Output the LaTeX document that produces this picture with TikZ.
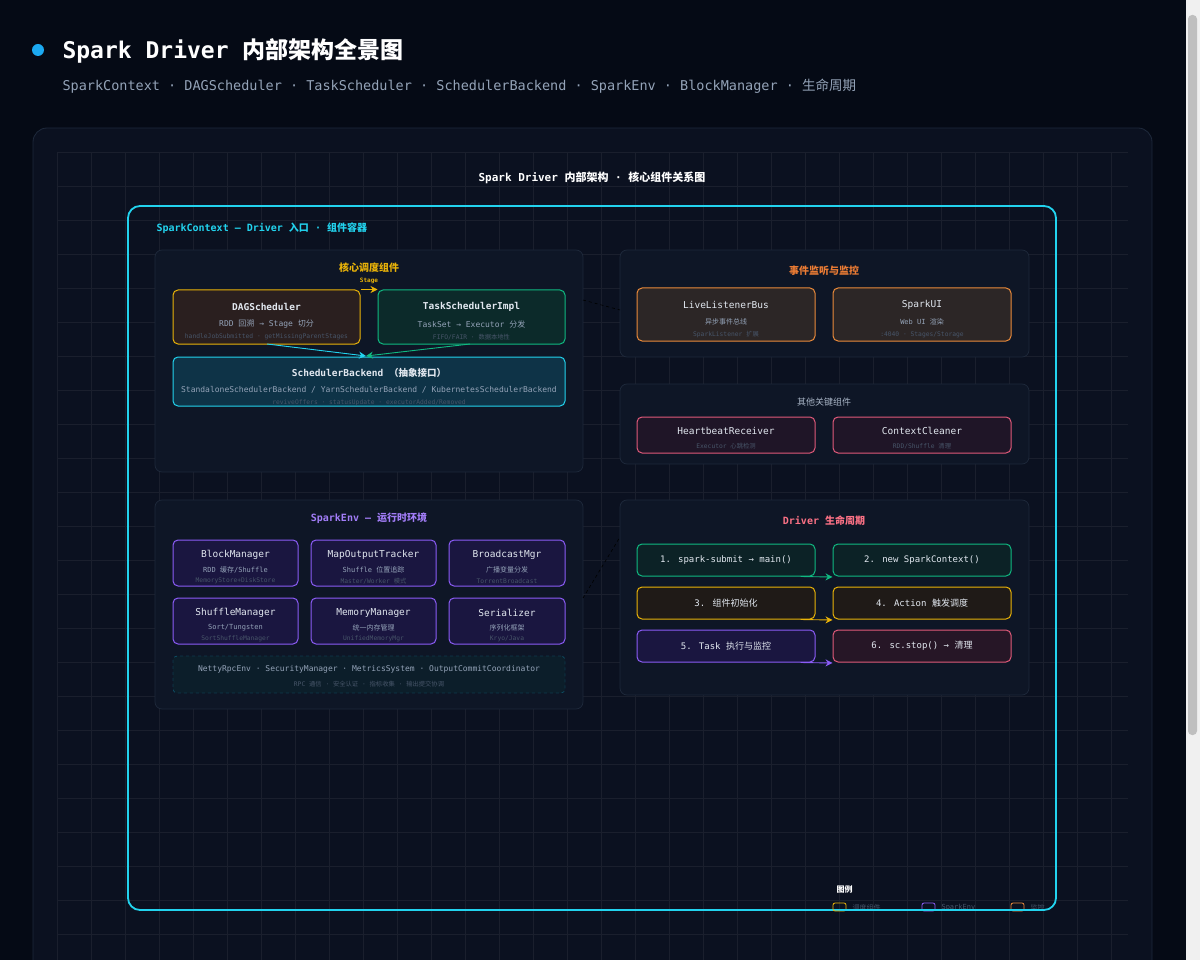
\documentclass[tikz,border=0pt]{standalone}
\usepackage{fontspec}
\setmainfont{DejaVu Sans Mono}
\newfontfamily\cjk{Noto Sans CJK SC}
\newcommand\zh[1]{{\cjk #1}}
\usetikzlibrary{arrows.meta}
\definecolor{bg}{HTML}{050A15}
\definecolor{panel}{HTML}{0B1120}
\definecolor{sub}{HTML}{0E1626}
\definecolor{edge}{HTML}{1E293B}
\definecolor{cy}{HTML}{22D3EE}
\definecolor{yl}{HTML}{EAB308}
\definecolor{gr}{HTML}{10B981}
\definecolor{or}{HTML}{EA8A3A}
\definecolor{pk}{HTML}{E05A7A}
\definecolor{pu}{HTML}{8B5CF6}
\definecolor{tname}{HTML}{E2E8F0}
\definecolor{tdesc}{HTML}{94A3B8}
\definecolor{tsmall}{HTML}{475569}
\definecolor{HTML2A1F1F}{HTML}{2A1F1F}
\definecolor{HTML0C2A2A}{HTML}{0C2A2A}
\definecolor{HTML0E3347}{HTML}{0E3347}
\definecolor{HTML2C2626}{HTML}{2C2626}
\definecolor{HTML1F1527}{HTML}{1F1527}
\definecolor{HTML1A1640}{HTML}{1A1640}
\definecolor{HTML0E7490}{HTML}{0E7490}
\definecolor{HTML0C1E2A}{HTML}{0C1E2A}
\definecolor{HTMLFB7185}{HTML}{FB7185}
\definecolor{HTML0C2226}{HTML}{0C2226}
\definecolor{HTML1F1A17}{HTML}{1F1A17}
\definecolor{HTML261626}{HTML}{261626}
\tikzset{
 x=1pt,y=-1pt,
 pan/.style={draw=edge,fill=sub,rounded corners=7pt,line width=0.7pt},
 box/.style={draw=#1,rounded corners=5pt,line width=1pt,inner sep=0},
 nm/.style={text=tname,font=\fontsize{9.5}{11}\selectfont},
 ds/.style={text=tdesc,font=\fontsize{8}{10}\selectfont},
 sm/.style={text=tsmall,font=\fontsize{6.3}{8}\selectfont},
 ptitle/.style={font=\bfseries\fontsize{10}{12}\selectfont},
 arr/.style={-{Stealth[length=7pt,width=7pt]},line width=0.9pt},
 dlink/.style={draw=edge!150,dashed,line width=0.6pt},
}
\newcommand\envbox[7]{%
 \node[box=pu,fill=HTML1A1640,minimum width=#4,minimum height=46] (#1) at (#2,#3) {};
 \node[nm] at (#2,#3-8) {#5};
 \node[ds,font=\fontsize{7}{8}\selectfont] at (#2,#3+7) {#6};
 \node[sm] at (#2,#3+18) {#7};}
\newcommand\lc[6]{%
 \node[box=#4,fill=#5,minimum width=178,minimum height=32,text=tname,font=\fontsize{9}{11}\selectfont] (#1) at (#2,#3) {#6};}
\begin{document}
\begin{tikzpicture}
\fill[bg] (0,0) rectangle (1200,960);
\useasboundingbox (0,0) rectangle (1200,960);
% scrollbar
\fill[white!94!black] (1186,0) rectangle (1200,960);
\fill[white!75!black,rounded corners=4pt] (1188,15) rectangle (1197,735);
% header
\fill[cy!80!blue] (38,50) circle (6);
\node[anchor=west,text=white,font=\bfseries\fontsize{23}{26}\selectfont] (title) at (59,51) {Spark Driver \zh{内部架构全景图}};
\node[anchor=west,text=tdesc,font=\fontsize{13.5}{16}\selectfont] (subt) at (59,86) {SparkContext · DAGScheduler · TaskScheduler · SchedulerBackend · SparkEnv · BlockManager · \zh{生命周期}};
% outer panel
\draw[edge,fill=panel,rounded corners=14pt,line width=0.8pt] (33,128) rectangle (1152,975);
\begin{scope}
\clip (57,152) rectangle (1128,960);
\foreach \i in {0,...,32} {\draw[white!6!panel,line width=0.5pt] (57+34*\i,152) -- (57+34*\i,960);}
\foreach \i in {0,...,24} {\draw[white!6!panel,line width=0.5pt] (57,152+34*\i) -- (1128,152+34*\i);}
\end{scope}
\node[text=white,font=\bfseries\fontsize{11}{13}\selectfont] (mt) at (592,178) {Spark Driver \zh{内部架构} · \zh{核心组件关系图}};
% SparkContext frame
\draw[cy,line width=1.8pt,rounded corners=12pt] (128,206) rectangle (1056,910);
\node[anchor=west,text=cy,ptitle] (sctx) at (153,228) {SparkContext — Driver \zh{入口} · \zh{组件容器}};
% ---- core panel
\draw[pan] (155,250) rectangle (583,472);
\node[text=yl,ptitle] (coreT) at (369,268) {\zh{核心调度组件}};
\node[box=yl,fill=HTML2A1F1F,minimum width=187,minimum height=54] (dag) at (266.5,317) {};
\node[nm,font=\bfseries\fontsize{9.5}{11}\selectfont] at (266.5,307) {DAGScheduler};
\node[ds] at (266.5,324) {RDD \zh{回溯} → Stage \zh{切分}};
\node[sm] at (266.5,337) {handleJobSubmitted · getMissingParentStages};
\node[box=gr,fill=HTML0C2A2A,minimum width=187,minimum height=54] (ts) at (471.5,317) {};
\node[nm,font=\bfseries\fontsize{9.5}{11}\selectfont] at (471.5,307) {TaskSchedulerImpl};
\node[ds] at (471.5,324) {TaskSet → Executor \zh{分发}};
\node[sm] at (471.5,337) {FIFO/FAIR · \zh{数据本地性}};
\node[box=cy,fill=HTML0E3347,minimum width=392,minimum height=49] (sb) at (369,381.5) {};
\node[nm,font=\bfseries\fontsize{9.5}{11}\selectfont] at (369,373) {SchedulerBackend \zh{（抽象接口）}};
\node[ds] at (369,390) {StandaloneSchedulerBackend / YarnSchedulerBackend / KubernetesSchedulerBackend};
\node[sm] at (369,403) {reviveOffers · statusUpdate · executorAdded/Removed};
\draw[arr,yl] (dag.north east) -- (ts.north west) node[midway,above=2pt,text=yl,font=\bfseries\fontsize{6}{7}\selectfont] {Stage};
\coordinate (sbin) at (366,356);
\draw[arr,cy] (267,344) -- (sbin);
\draw[arr,gr] (470,344) -- (sbin);
% ---- event panel
\draw[pan] (620,250) rectangle (1029,357);
\node[text=or!90!red,ptitle] (evT) at (824,271) {\zh{事件监听与监控}};
\node[box=or,fill=HTML2C2626,minimum width=178,minimum height=53] (llb) at (726,314.5) {};
\node[nm] at (726,305) {LiveListenerBus};
\node[ds,font=\fontsize{7}{8}\selectfont] at (726,322) {\zh{异步事件总线}};
\node[sm] at (726,335) {SparkListener \zh{扩展}};
\node[box=or,fill=HTML2C2626,minimum width=178,minimum height=53] (ui) at (922,314.5) {};
\node[nm] at (922,305) {SparkUI};
\node[ds,font=\fontsize{7}{8}\selectfont] at (922,322) {Web UI \zh{渲染}};
\node[sm] at (922,335) {:4040 · Stages/Storage};
% ---- other panel
\draw[pan] (620,384) rectangle (1029,464);
\node[text=tdesc!80!white,font=\fontsize{9}{11}\selectfont] (otT) at (824,402) {\zh{其他关键组件}};
\node[box=pk,fill=HTML1F1527,minimum width=178,minimum height=36] (hb) at (726,435) {};
\node[nm] at (726,431) {HeartbeatReceiver};
\node[sm] at (726,446) {Executor \zh{心跳检测}};
\node[box=pk,fill=HTML1F1527,minimum width=178,minimum height=36] (cc) at (922,435) {};
\node[nm] at (922,431) {ContextCleaner};
\node[sm] at (922,446) {RDD/Shuffle \zh{清理}};
% ---- SparkEnv panel
\draw[pan] (155,500) rectangle (583,709);
\node[text=pu!80!white,ptitle] (envT) at (369,518) {SparkEnv — \zh{运行时环境}};
\envbox{bm}{235.5}{563}{125}{BlockManager}{RDD \zh{缓存}/Shuffle}{MemoryStore+DiskStore}
\envbox{mot}{373.5}{563}{125}{MapOutputTracker}{Shuffle \zh{位置追踪}}{Master/Worker \zh{模式}}
\envbox{bc}{507}{563}{116}{BroadcastMgr}{\zh{广播变量分发}}{TorrentBroadcast}
\envbox{sh}{235.5}{621}{125}{ShuffleManager}{Sort/Tungsten}{SortShuffleManager}
\envbox{mm}{373.5}{621}{125}{MemoryManager}{\zh{统一内存管理}}{UnifiedMemoryMgr}
\envbox{ser}{507}{621}{116}{Serializer}{\zh{序列化框架}}{Kryo/Java}
\node[draw=HTML0E7490,dashed,fill=HTML0C1E2A,rounded corners=4pt,minimum width=392,minimum height=37,inner sep=0] (rpc) at (369,674.5) {};
\node[ds] at (369,669) {NettyRpcEnv · SecurityManager · MetricsSystem · OutputCommitCoordinator};
\node[sm] at (369,684) {RPC \zh{通信} · \zh{安全认证} · \zh{指标收集} · \zh{输出提交协调}};
% ---- lifecycle panel
\draw[pan] (620,500) rectangle (1029,695);
\node[text=HTMLFB7185,ptitle] (lcT) at (824,521) {Driver \zh{生命周期}};
\lc{l1}{726}{560}{gr}{HTML0C2226}{1. spark-submit → main()}
\lc{l2}{922}{560}{gr}{HTML0C2226}{2. new SparkContext()}
\lc{l3}{726}{603}{yl}{HTML1F1A17}{3. \zh{组件初始化}}
\lc{l4}{922}{603}{yl}{HTML1F1A17}{4. Action \zh{触发调度}}
\lc{l5}{726}{646}{pu}{HTML1A1640}{5. Task \zh{执行与监控}}
\lc{l6}{922}{646}{pk}{HTML261626}{6. sc.stop() → \zh{清理}}
\draw[arr,gr] ([xshift=-15pt]l1.south east) -- ([yshift=-0.5pt]l2.south west);
\draw[arr,yl] ([xshift=-15pt]l3.south east) -- ([yshift=-0.5pt]l4.south west);
\draw[arr,pu] ([xshift=-15pt]l5.south east) -- ([yshift=-0.5pt]l6.south west);
% dashed links
\coordinate (c1a) at (583,300); \coordinate (c1b) at (620,310);
\coordinate (c2a) at (583,598); \coordinate (c2b) at (620,537);
\draw[dlink] (c1a) -- (c1b);
\draw[dlink] (c2a) -- (c2b);
% legend
\node[anchor=west,text=white,font=\bfseries\fontsize{8}{10}\selectfont\cjk] (lg) at (833,889) {图例};
\draw[yl,rounded corners=2pt,line width=0.8pt] (833,903) rectangle (846,911);
\node[anchor=west,sm,font=\fontsize{7}{8}\selectfont\cjk] at (849,908) {调度组件};
\draw[pu,rounded corners=2pt,line width=0.8pt] (922,903) rectangle (935,911);
\node[anchor=west,sm,font=\fontsize{7}{8}\selectfont] at (938,908) {SparkEnv};
\draw[or,rounded corners=2pt,line width=0.8pt] (1011,903) rectangle (1024,911);
\node[anchor=west,sm,font=\fontsize{7}{8}\selectfont\cjk] at (1027,908) {监控};
\draw[cy,line width=1.8pt] (840,910) -- (1044,910);
\end{tikzpicture}
\end{document}
